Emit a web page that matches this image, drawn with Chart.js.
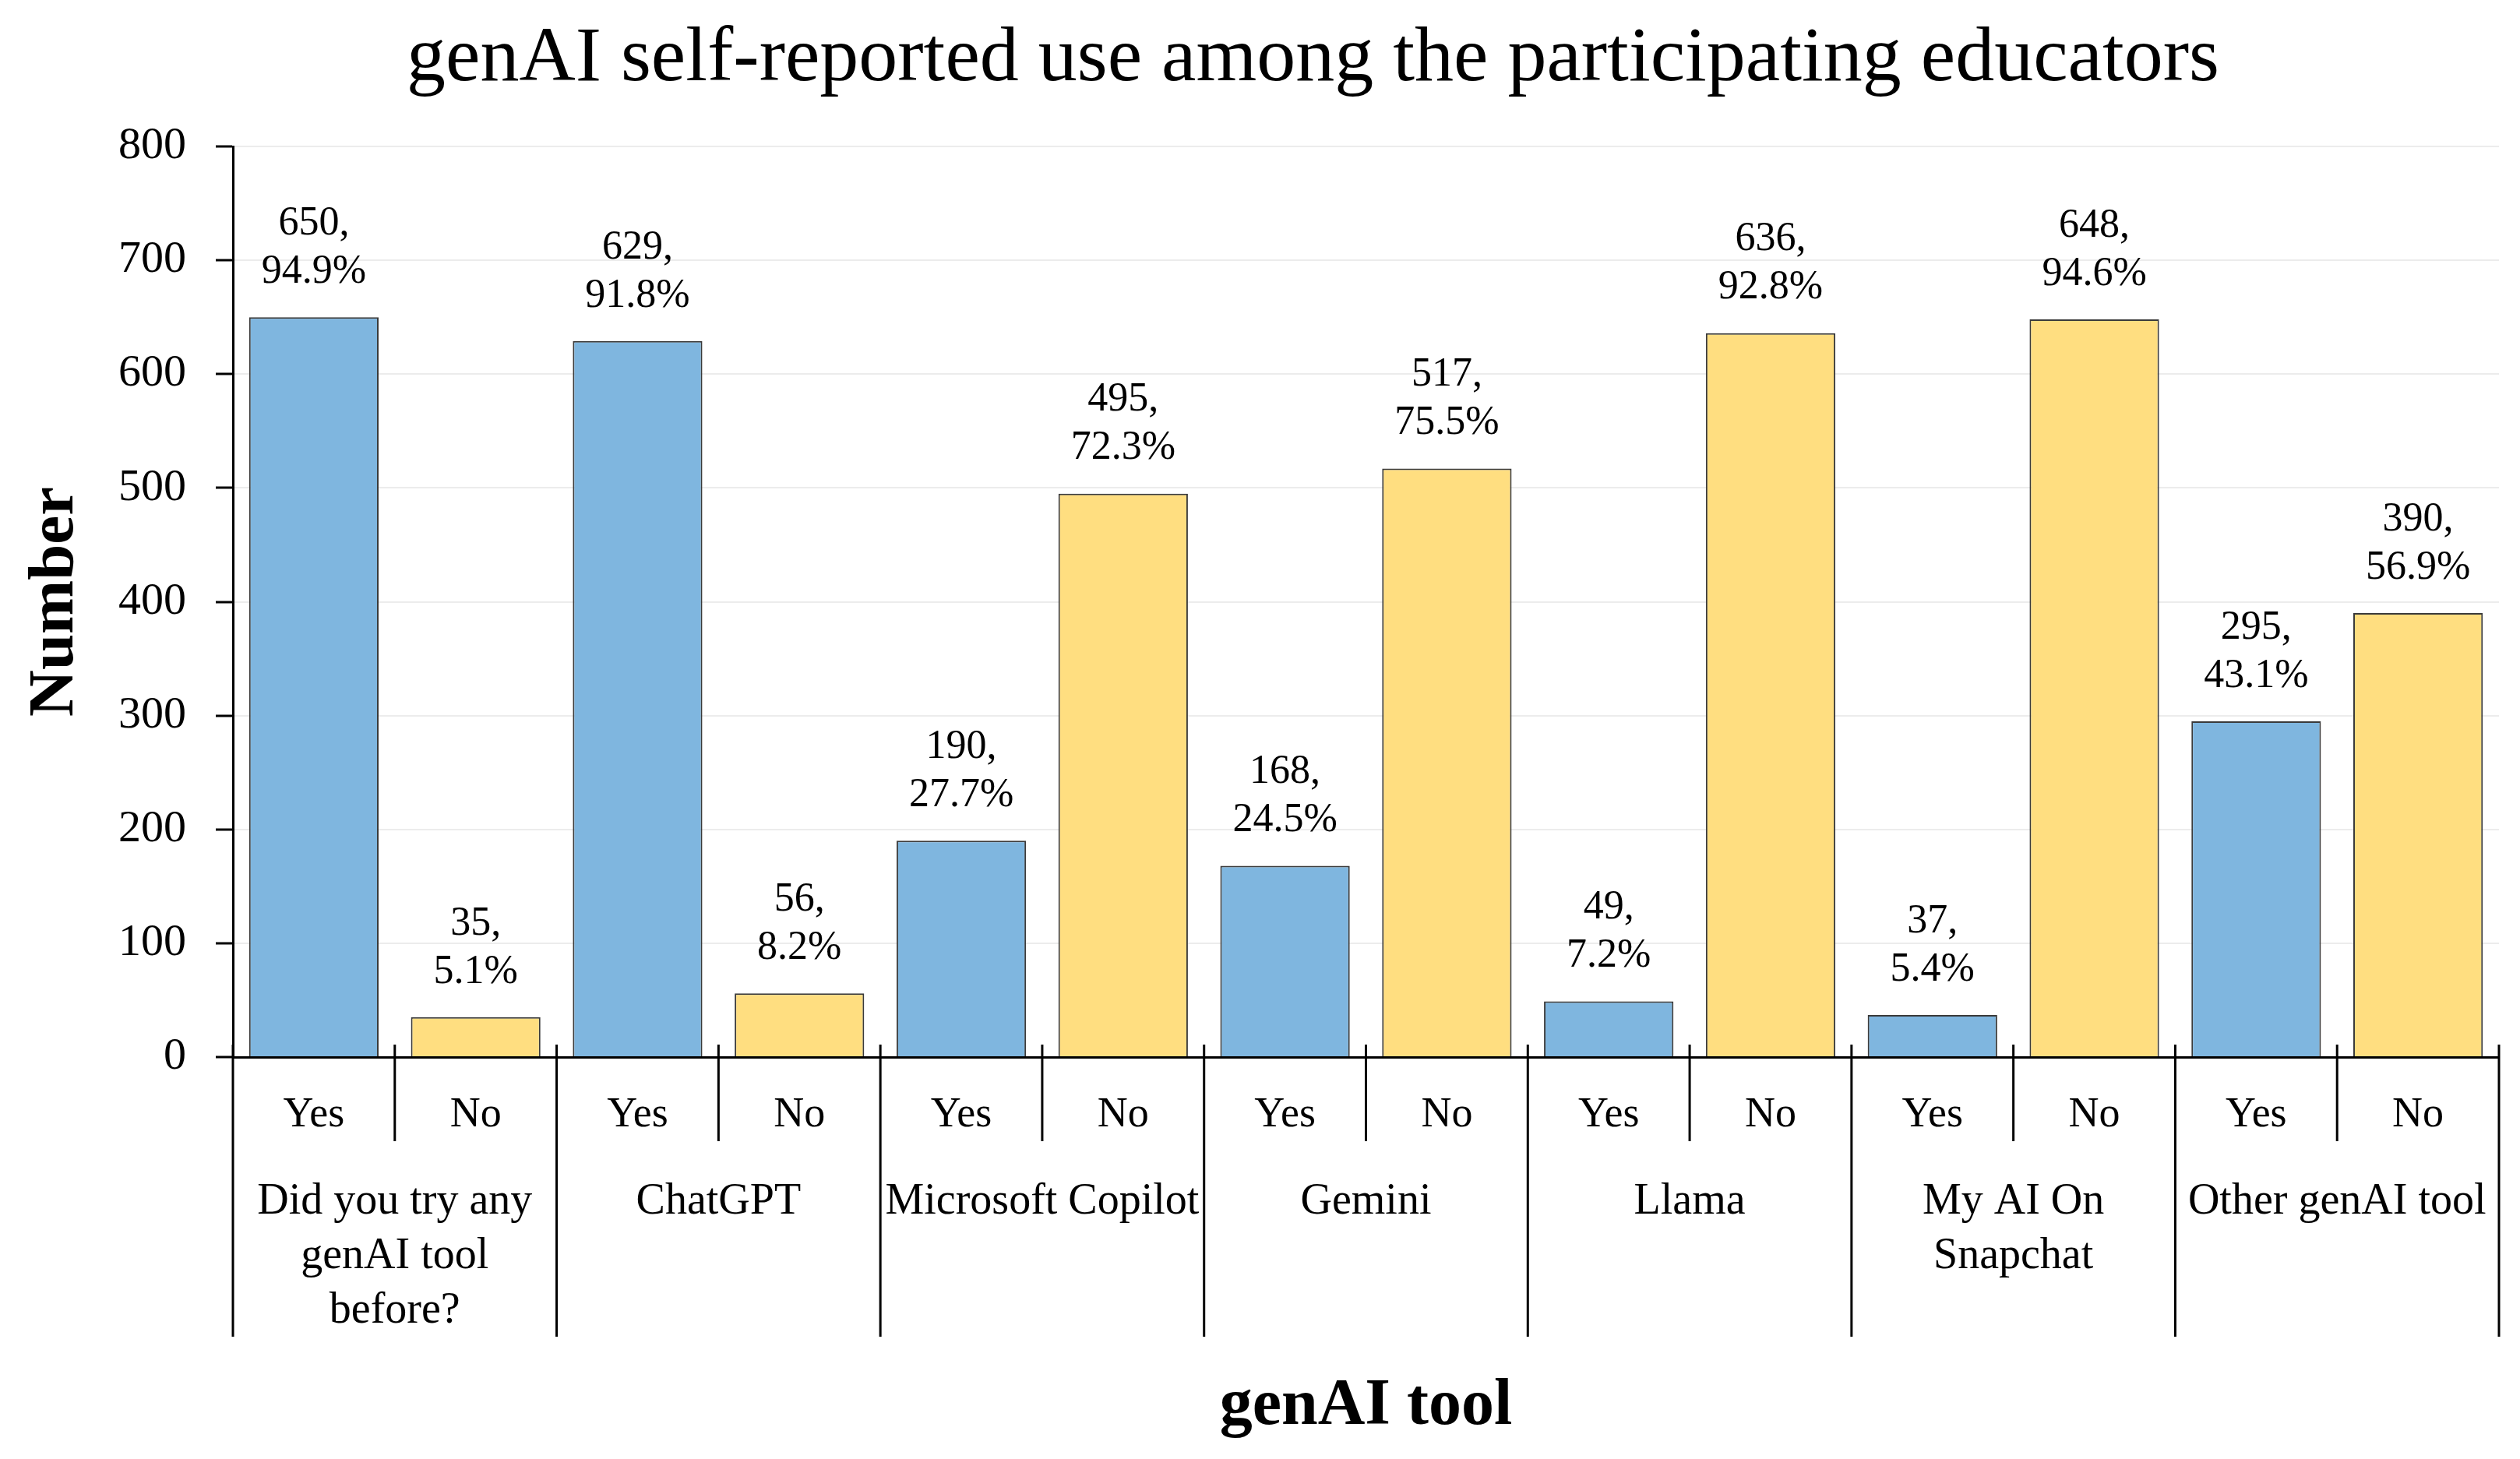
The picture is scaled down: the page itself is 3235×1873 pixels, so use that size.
<!DOCTYPE html>
<html>
<head>
<meta charset="utf-8">
<script src="https://cdn.jsdelivr.net/npm/chart.js@4.4.1/dist/chart.umd.min.js"></script>
<style>
  html, body { margin: 0; padding: 0; background: #fff; }
  canvas { display: block; }
</style>
</head>
<body>
<canvas id="grafico" width="3235" height="1873"></canvas>
<script>
// dados
const groups = [
    ['Did you try any', 'genAI tool', 'before?'],
    ['ChatGPT'],
    ['Microsoft Copilot'],
    ['Gemini'],
    ['Llama'],
    ['My AI On', 'Snapchat'],
    ['Other genAI tool']
];
const answers = ['Yes', 'No'];
const yesCounts = [650, 629, 190, 168, 49, 37, 295];
const noCounts = [35, 56, 495, 517, 636, 648, 390];
const yesPct = [94.9, 91.8, 27.7, 24.5, 7.2, 5.4, 43.1];
const noPct = [5.1, 8.2, 72.3, 75.5, 92.8, 94.6, 56.9];
const yMax = 800;
const yStep = 100;

const titleText = 'genAI self-reported use among the participating educators';
const corSim = '#7fb6df';
const corNao = '#ffde80';

// monta as 14 barras (Yes/No por ferramenta)
const labels = groups.flatMap(() => answers);
const values = groups.flatMap((g, i) => [yesCounts[i], noCounts[i]]);
const pcts = groups.flatMap((g, i) => [yesPct[i], noPct[i]]);
const colors = groups.flatMap(() => [corSim, corNao]);

Chart.defaults.font.family = '"Liberation Serif", serif';
Chart.defaults.color = '#000';

// título, rótulos das barras e eixo de dois níveis
const extras = {
    id: 'extras',
    afterDatasetsDraw(chart) {
        const ctx = chart.ctx;
        const meta = chart.getDatasetMeta(0);
        ctx.save();
        ctx.fillStyle = '#000';
        ctx.textAlign = 'center';
        ctx.textBaseline = 'middle';
        ctx.font = '52px "Liberation Serif"';
        meta.data.forEach((bar, i) => {
            ctx.fillText(values[i] + ',', bar.x, bar.y - 120);
            ctx.fillText(pcts[i].toFixed(1) + '%', bar.x, bar.y - 58);
        });
        ctx.restore();
    },
    afterDraw(chart) {
        const ctx = chart.ctx;
        const x = chart.scales.x;
        const area = chart.chartArea;
        const half = (x.getPixelForValue(1) - x.getPixelForValue(0)) / 2;
        ctx.save();
        ctx.fillStyle = '#000';
        ctx.strokeStyle = '#000';
        ctx.lineWidth = 3;

        // título
        ctx.font = '100px "Liberation Serif"';
        ctx.textAlign = 'center';
        ctx.textBaseline = 'alphabetic';
        ctx.fillText(titleText, (area.left + area.right) / 2 - 68, 103);

        // separadores
        ctx.beginPath();
        groups.forEach((g, gi) => {
            const left = x.getPixelForValue(gi * 2) - half;
            const mid = x.getPixelForValue(gi * 2) + half;
            ctx.moveTo(left, area.bottom - 16);
            ctx.lineTo(left, area.bottom + 359);
            ctx.moveTo(mid, area.bottom - 16);
            ctx.lineTo(mid, area.bottom + 108);
        });
        ctx.moveTo(area.right, area.bottom - 16);
        ctx.lineTo(area.right, area.bottom + 359);
        ctx.stroke();

        // nomes das ferramentas
        ctx.font = '56px "Liberation Serif"';
        ctx.textBaseline = 'middle';
        groups.forEach((lines, gi) => {
            const cx = (x.getPixelForValue(gi * 2) + x.getPixelForValue(gi * 2 + 1)) / 2;
            lines.forEach((t, li) => {
                ctx.fillText(t, cx, area.bottom + 186 + li * 70);
            });
        });
        ctx.restore();
    }
};

new Chart(document.getElementById('grafico'), {
    type: 'bar',
    data: {
        labels: labels,
        datasets: [{
            data: values,
            backgroundColor: colors,
            borderColor: '#3a3a3a',
            borderWidth: 2,
            barPercentage: 0.8,
            categoryPercentage: 1.0
        }]
    },
    options: {
        responsive: false,
        devicePixelRatio: 1,
        animation: false,
        layout: { padding: { left: 10, right: 27, top: 188, bottom: 10 } },
        plugins: {
            legend: { display: false },
            tooltip: { enabled: false }
        },
        scales: {
            y: {
                min: 0,
                max: yMax,
                ticks: {
                    stepSize: yStep,
                    padding: 38,
                    font: { size: 58 },
                    color: '#000'
                },
                grid: {
                    color: '#ececec',
                    lineWidth: 2,
                    tickColor: '#000',
                    tickLength: 22,
                    tickWidth: 3
                },
                border: { color: '#000', width: 3 },
                title: {
                    display: true,
                    text: 'Number',
                    font: { size: 83, weight: 'bold' },
                    padding: { top: 12, bottom: 0 }
                },
                afterFit: (scale) => { scale.width = 289; }
            },
            x: {
                offset: true,
                ticks: {
                    padding: 42,
                    font: { size: 54 },
                    color: '#000'
                },
                grid: { display: false, drawTicks: false },
                border: { color: '#000', width: 3 },
                title: {
                    display: true,
                    text: 'genAI tool',
                    font: { size: 84, weight: 'bold' },
                    padding: { top: 0, bottom: 6 }
                },
                afterFit: (scale) => { scale.height = 506; }
            }
        }
    },
    plugins: [extras]
});
</script>
</body>
</html>
